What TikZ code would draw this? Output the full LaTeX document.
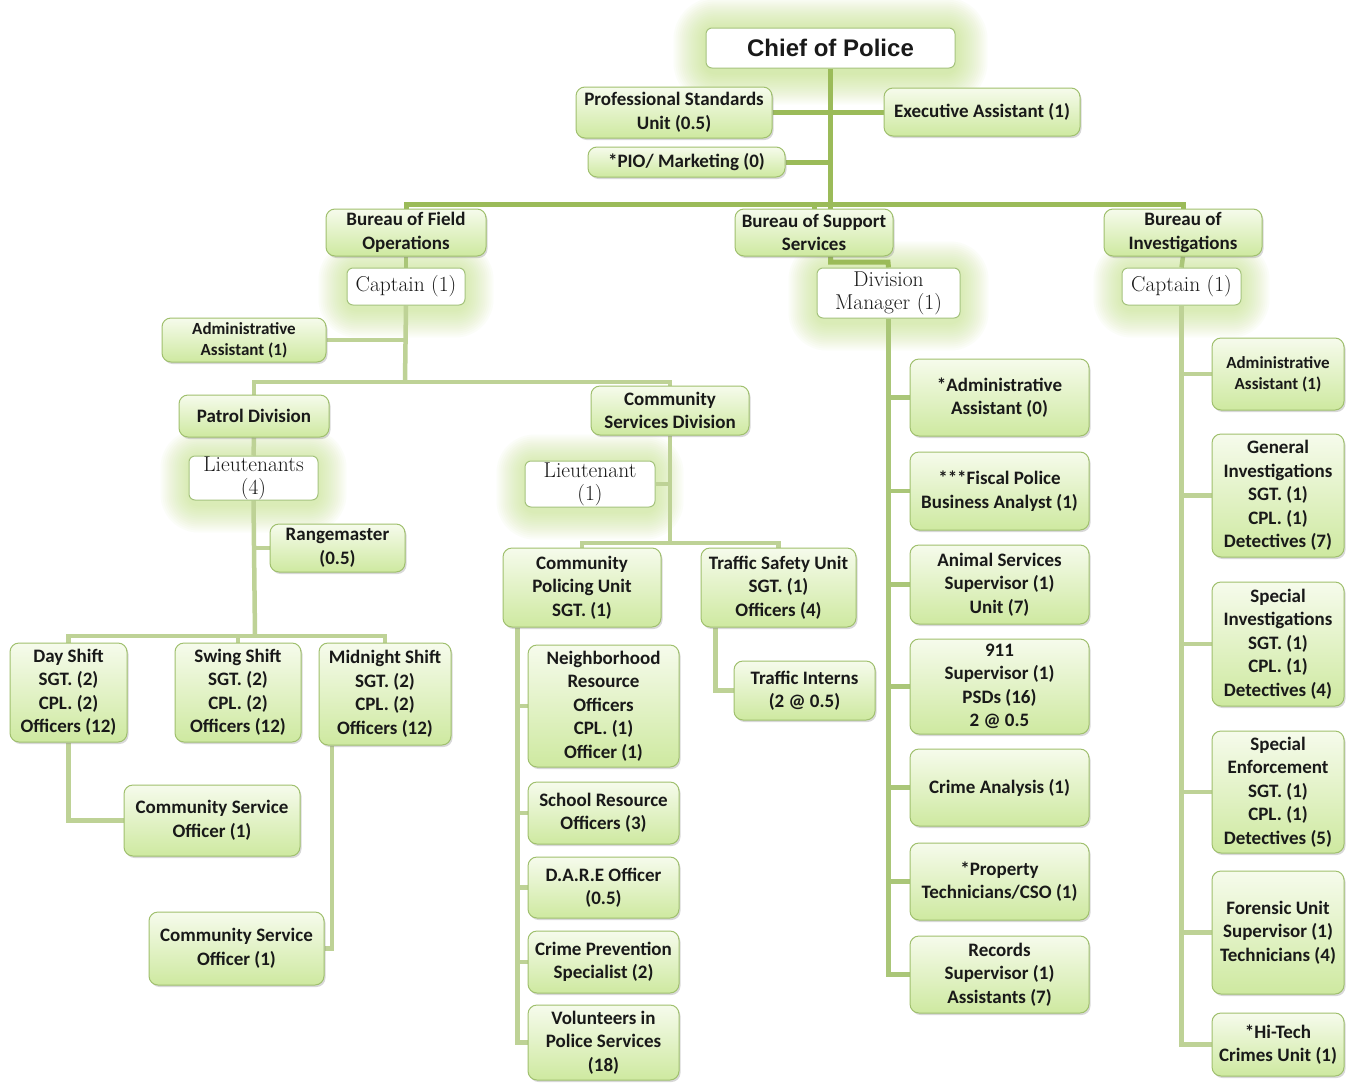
\documentclass[tikz,border=0pt]{standalone}
\usepackage{fontspec}
\newfontfamily\calb{Carlito}
\newfontfamily\ari{Liberation Sans}
\usetikzlibrary{shadows,calc}
\definecolor{gtop}{RGB}{246,251,236}
\definecolor{gbot}{RGB}{206,233,160}
\definecolor{gedge}{RGB}{160,192,110}
\definecolor{wedge}{RGB}{165,195,125}
\definecolor{lineA}{RGB}{155,187,89}
\definecolor{lineB}{RGB}{190,210,150}
\definecolor{lineC}{RGB}{170,198,120}
\definecolor{glowc}{RGB}{185,222,110}
\definecolor{txt}{RGB}{25,25,25}
\pgfdeclarelayer{bgl}
\pgfdeclarelayer{glowl}
\pgfdeclarelayer{linel}
\pgfsetlayers{bgl,glowl,linel,main}
\tikzset{
  sz/.style 2 args={minimum width=#1pt, minimum height=#2pt},
  gbox/.style={rounded corners=9pt, draw=gedge, line width=1pt, top color=gtop, bottom color=gbot,
    align=center, inner sep=0pt, text=txt, font=\calb\bfseries\fontsize{19}{23.5}\selectfont,
    drop shadow={shadow xshift=1.5pt, shadow yshift=-2pt, opacity=0.3}},
  sbox/.style={gbox, font=\calb\bfseries\fontsize{17}{21}\selectfont},
  wbox/.style={rounded corners=6pt, draw=wedge, line width=1pt, fill=white, align=center,
    inner sep=0pt, text=txt, font=\fontsize{21.5}{23}\selectfont},
  cA/.style={draw=lineA, line width=5pt},
  cB/.style={draw=lineB, line width=4.5pt},
  cC/.style={draw=lineC, line width=4.5pt},
}
\newcommand{\glowbox}[2]{%
  \begin{pgfonlayer}{glowl}
  \foreach \r in {2,4,...,#2}{
    \fill[glowc, opacity=0.045, rounded corners=\r pt+10pt]
      ($(#1.south west)+(-\r,-\r-4)$) rectangle ($(#1.north east)+(\r,\r-2)$);
  }
  \end{pgfonlayer}}
\begin{document}
\begin{tikzpicture}[x=1pt,y=1pt]
\useasboundingbox (0,0) rectangle (1352,-1082);
\begin{pgfonlayer}{bgl}
\fill[white] (0,0) rectangle (1352,-1082);
\end{pgfonlayer}

% top
\node[wbox, sz={249}{40}, font=\ari\bfseries\fontsize{24}{28}\selectfont] (chief) at (830.5,-48) {Chief of Police};
\node[gbox, sz={196}{51}] (profstd) at (674,-112.5) {Professional Standards\\Unit (0.5)};
\node[gbox, sz={196}{48}] (exec) at (982,-112) {Executive Assistant (1)};
\node[gbox, sz={197}{30}] (pio) at (686.5,-162) {*PIO/ Marketing (0)};

% bureaus
\node[gbox, sz={160}{47}] (bfo) at (406,-232.5) {Bureau of Field\\Operations};
\node[gbox, sz={158}{47}] (bss) at (814,-232.5) {Bureau of Support\\Services};
\node[gbox, sz={158}{47}] (bi) at (1183,-232.5) {Bureau of\\Investigations};
\node[wbox, sz={118}{37}] (cap1) at (406,-286.5) {Captain (1)};
\node[wbox, sz={143}{50}] (dm) at (888.5,-293) {Division\\Manager (1)};
\node[wbox, sz={119}{37}] (cap2) at (1181.5,-286.5) {Captain (1)};

% field operations
\node[sbox, sz={164}{44}] (aa1) at (244,-340) {Administrative\\Assistant (1)};
\node[gbox, sz={150}{42}] (patrol) at (254,-416) {Patrol Division};
\node[gbox, sz={158}{49}] (csd) at (670,-410.5) {Community\\Services Division};
\node[wbox, sz={129}{44}] (lts) at (253.5,-478) {Lieutenants\\(4)};
\node[wbox, sz={130}{46}] (lt) at (590,-484) {Lieutenant\\(1)};
\node[gbox, sz={135}{48}] (range) at (337.5,-548) {Rangemaster\\(0.5)};
\node[gbox, sz={117}{99}] (day) at (68.5,-692.5) {Day Shift\\SGT. (2)\\CPL. (2)\\Officers (12)};
\node[gbox, sz={126}{99}] (swing) at (238,-692.5) {Swing Shift\\SGT. (2)\\CPL. (2)\\Officers (12)};
\node[gbox, sz={132}{102}] (mid) at (385,-694) {Midnight Shift\\SGT. (2)\\CPL. (2)\\Officers (12)};
\node[gbox, sz={176}{71}] (cso1) at (212,-820.5) {Community Service\\Officer (1)};
\node[gbox, sz={175}{73}] (cso2) at (236.5,-948.5) {Community Service\\Officer (1)};

% community services
\node[gbox, sz={158}{79}] (cpu) at (582,-587.5) {Community\\Policing Unit\\SGT. (1)};
\node[gbox, sz={155}{79}] (tsu) at (778.5,-587.5) {Traffic Safety Unit\\SGT. (1)\\Officers (4)};
\node[gbox, sz={151}{122}] (nro) at (603.5,-706) {Neighborhood\\Resource\\Officers\\CPL. (1)\\Officer (1)};
\node[gbox, sz={151}{62}] (sro) at (603.5,-813) {School Resource\\Officers (3)};
\node[gbox, sz={151}{61}] (dare) at (603.5,-887.5) {D.A.R.E Officer\\(0.5)};
\node[gbox, sz={151}{62}] (cps) at (603.5,-962) {Crime Prevention\\Specialist (2)};
\node[gbox, sz={151}{75}] (vol) at (603.5,-1042.5) {Volunteers in\\Police Services\\(18)};
\node[gbox, sz={141}{59}] (ti) at (804.5,-690.5) {Traffic Interns\\(2 @ 0.5)};

% support services
\node[gbox, sz={179}{77}] (saa) at (999.5,-397.5) {*Administrative\\Assistant (0)};
\node[gbox, sz={179}{78}] (fis) at (999.5,-491) {***Fiscal Police\\Business Analyst (1)};
\node[gbox, sz={179}{79}] (ani) at (999.5,-584.5) {Animal Services\\Supervisor (1)\\Unit (7)};
\node[gbox, sz={179}{95}] (nine) at (999.5,-686.5) {911\\Supervisor (1)\\PSDs (16)\\2 @ 0.5};
\node[gbox, sz={179}{77}] (ca) at (999.5,-787.5) {Crime Analysis (1)};
\node[gbox, sz={179}{77}] (prop) at (999.5,-881.5) {*Property\\Technicians/CSO (1)};
\node[gbox, sz={179}{77}] (rec) at (999.5,-974.5) {Records\\Supervisor (1)\\Assistants (7)};

% investigations
\node[sbox, sz={132}{72}] (iaa) at (1278,-374) {Administrative\\Assistant (1)};
\node[gbox, sz={132}{123}] (gi) at (1278,-495.5) {General\\Investigations\\SGT. (1)\\CPL. (1)\\Detectives (7)};
\node[gbox, sz={132}{124}] (si) at (1278,-644) {Special\\Investigations\\SGT. (1)\\CPL. (1)\\Detectives (4)};
\node[gbox, sz={132}{122}] (se) at (1278,-792) {Special\\Enforcement\\SGT. (1)\\CPL. (1)\\Detectives (5)};
\node[gbox, sz={132}{123}] (fu) at (1278,-932.5) {Forensic Unit\\Supervisor (1)\\Technicians (4)};
\node[gbox, sz={132}{63}] (ht) at (1278,-1044.5) {*Hi-Tech\\Crimes Unit (1)};

% glows
\glowbox{chief}{32}
\glowbox{cap1}{28}
\glowbox{dm}{28}
\glowbox{cap2}{28}
\glowbox{lts}{28}
\glowbox{lt}{28}

% connectors
\coordinate (barC) at (830,-204);
\coordinate (fj) at (405,-382);
\coordinate (pj) at (255,-636);
\coordinate (cj) at (670,-543);
\coordinate (dmj) at (888,-262);
\begin{pgfonlayer}{linel}
\draw[cA] (chief.south) -- (chief.south |- bss.north);
\draw[cA] (profstd.east) -- (profstd.east -| chief.south);
\draw[cA] (pio.east) -- (pio.east -| chief.south);
\draw[cA] (exec.west) -- (exec.west -| chief.south);
\draw[cA] (bfo.north) |- (barC) -| (bi.north);
\draw[cA] (bss.north) -- (bss.north |- barC);
% field
\draw[cC] (bfo.south) -- (cap1.north);
\draw[cB] (cap1.south) -- (fj);
\draw[cB] (patrol.north) |- (fj) -| (csd.north);
\draw[cB] (aa1.east) -- (aa1.east -| fj);
\draw[cB] (patrol.south) -- (lts.north);
\draw[cB] (lts.south) -- (pj);
\draw[cB] (day.north) |- (pj) -| (mid.north);
\draw[cB] (swing.north) -- (swing.north |- pj);
\draw[cB] (range.west) -- (range.west -| pj);
\draw[cB] (day.south) |- (cso1.west);
\draw[cB] ($(mid.south west)!0.1!(mid.south east)$) |- (cso2.east);
% community services
\draw[cB] (csd.south) -- (cj);
\draw[cB] (lt.east) -- (lt.east -| cj);
\draw[cB] (cpu.north) |- (cj) -| (tsu.north);
\draw[cB] ($(cpu.south west)+(15,0)$) coordinate (cpuL) |- (vol.west);
\draw[cB] (nro.west) -- (nro.west -| cpuL);
\draw[cB] (sro.west) -- (sro.west -| cpuL);
\draw[cB] (dare.west) -- (dare.west -| cpuL);
\draw[cB] (cps.west) -- (cps.west -| cpuL);
\draw[cB] ($(tsu.south west)+(15,0)$) |- (ti.west);
% support
\draw[cA] (chief.south |- bss.south) |- (dmj) -- (dm.north);
\draw[cC] (dm.south) |- (rec.west);
\draw[cC] (saa.west) -- (saa.west -| dm.south);
\draw[cC] (fis.west) -- (fis.west -| dm.south);
\draw[cC] (ani.west) -- (ani.west -| dm.south);
\draw[cC] (nine.west) -- (nine.west -| dm.south);
\draw[cC] (ca.west) -- (ca.west -| dm.south);
\draw[cC] (prop.west) -- (prop.west -| dm.south);
% investigations
\draw[cC] (bi.south) -- (cap2.north);
\draw[cB] (cap2.south) |- (ht.west);
\draw[cB] (iaa.west) -- (iaa.west -| cap2.south);
\draw[cB] (gi.west) -- (gi.west -| cap2.south);
\draw[cB] (si.west) -- (si.west -| cap2.south);
\draw[cB] (se.west) -- (se.west -| cap2.south);
\draw[cB] (fu.west) -- (fu.west -| cap2.south);
\end{pgfonlayer}
\end{tikzpicture}
\end{document}
